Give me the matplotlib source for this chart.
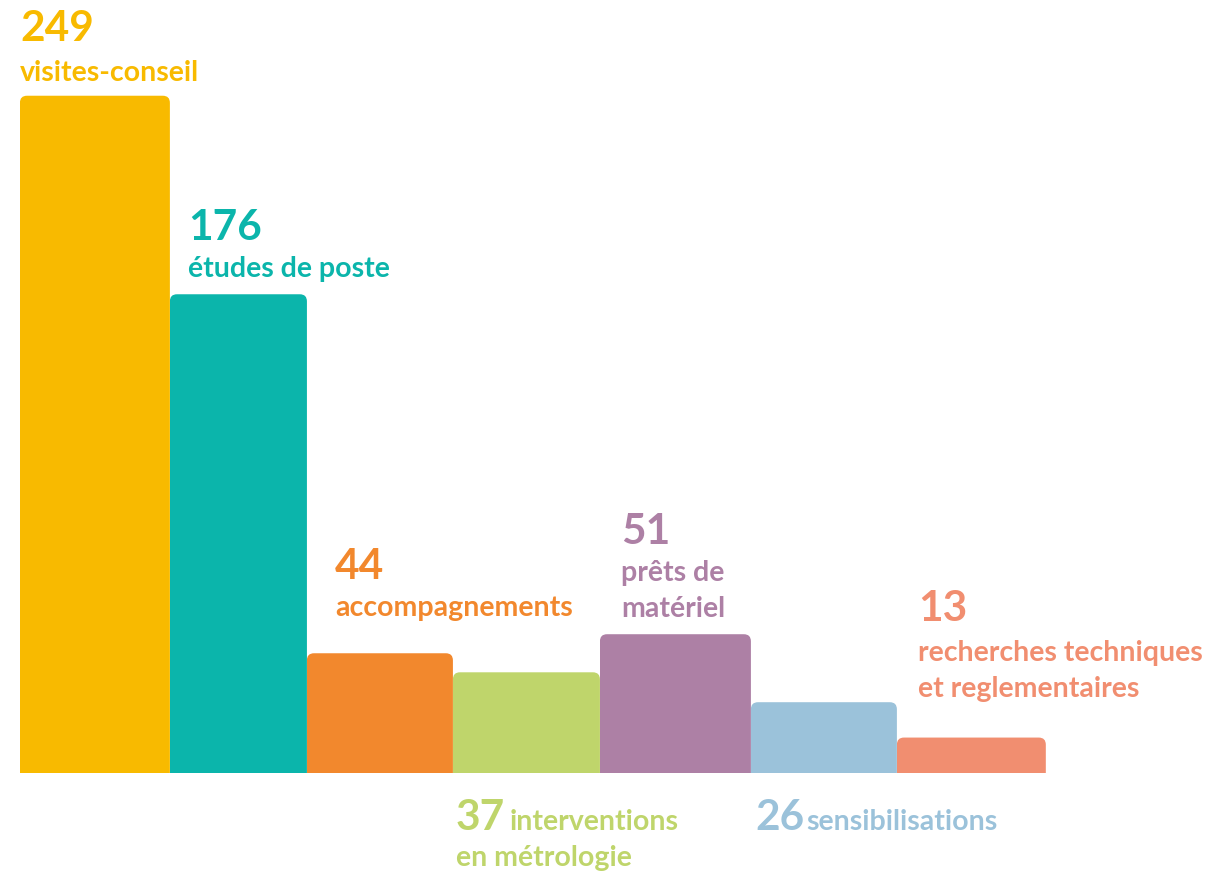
import numpy as np
import matplotlib
matplotlib.use("Agg")
import matplotlib.pyplot as plt
from matplotlib.patches import FancyBboxPatch, Rectangle

# Data
values = [249, 176, 44, 37, 51, 26, 13]
labels = [
    ["visites-conseil"],
    ["études de poste"],
    ["accompagnements"],
    ["interventions", "en métrologie"],
    ["prêts de", "matériel"],
    ["sensibilisations"],
    ["recherches techniques", "et reglementaires"],
]
colors = ["#F8BA00", "#0BB5AB", "#F2882D", "#BFD56B", "#AD80A5", "#9BC2DA", "#F18E70"]

# Layout (bar widths in relative units, text offsets in pixels)
widths = [1.023, 0.935, 0.996, 1.003, 1.03, 0.996, 1.016]
# offsets relative to bar top-left, or bar bottom-left for labels placed below
text_layout = [
    dict(dx=0, num_dy=55, lab_dy=15, below=False),
    dict(dx=18, num_dy=54, lab_dy=17, below=False),
    dict(dx=28, num_dy=74, lab_dy=37, below=False),
    dict(dx=3, num_dy=-57, lab_dy=-57, below=True, inline_dx=54),
    dict(dx=21, num_dy=90, lab_dy=53, below=False),
    dict(dx=4, num_dy=-57, lab_dy=-57, below=True, inline_dx=51),
    dict(dx=21, num_dy=117, lab_dy=77, below=False),
]
line_step = 36
font = "Lato"
num_size = 30.5
lab_size = 20.5

fig = plt.figure(figsize=(12.05, 8.73), dpi=100)
ax = fig.add_axes([0, 0, 1, 1])
ax.set_xlim(-0.136, 8.085)
ax.set_ylim(-36.8, 284.2)
ax.axis("off")

lefts = np.concatenate([[0], np.cumsum(widths)[:-1]])
bars = ax.bar(lefts, values, width=widths, align="edge", color=colors)

# replace plain rectangles with top-rounded bars
rx = 0.048
ry = 2.6
for rect, c in zip(bars, colors):
    x, w, h = rect.get_x(), rect.get_width(), rect.get_height()
    rect.set_visible(False)
    p = FancyBboxPatch((x, -ry * 2), w, h + ry * 2,
                       boxstyle=f"round,pad=0,rounding_size={rx}",
                       mutation_aspect=ry / rx, facecolor=c, edgecolor="none")
    ax.add_patch(p)
    p.set_clip_path(Rectangle((x, 0), w, h + 10, transform=ax.transData))

for i, (v, lab, c, lay) in enumerate(zip(values, labels, colors, text_layout)):
    x = lefts[i]
    y = 0 if lay["below"] else v
    ax.annotate(str(v), xy=(x, y), xytext=(lay["dx"], lay["num_dy"]),
                textcoords="offset pixels", ha="left", va="baseline",
                fontsize=num_size, fontweight="bold", color=c, family=font)
    for j, line in enumerate(lab):
        dx = lay["dx"]
        if lay["below"] and j == 0:
            dx += lay["inline_dx"]
        ax.annotate(line, xy=(x, y), xytext=(dx, lay["lab_dy"] - j * line_step),
                    textcoords="offset pixels", ha="left", va="baseline",
                    fontsize=lab_size, fontweight="bold", color=c, family=font)

fig.savefig("out.png", dpi=100, facecolor="white")
